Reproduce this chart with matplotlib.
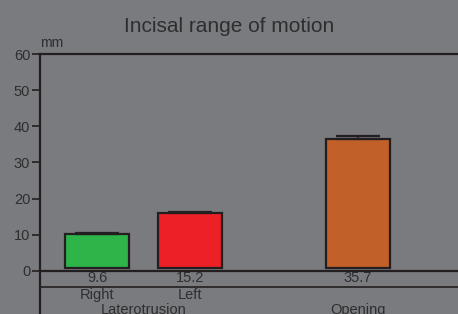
import matplotlib.pyplot as plt

plt.rcParams['font.family'] = ['Liberation Sans', 'DejaVu Sans']

# data
labels = ['Right', 'Left', 'Opening']
values = [9.6, 15.2, 35.7]
errors = [0.2, 0.3, 1.0]
colors = ['#2db54a', '#ee2027', '#c2602a']
yticks = [0, 10, 20, 30, 40, 50, 60]

bg = '#7a7b7f'
ink = '#231f20'
txt = '#2e2e30'

x_pos = [1, 2, 3.806]
base = 0.7

fig = plt.figure(figsize=(4.58, 3.14), dpi=100, facecolor=bg)
ax = fig.add_axes([40 / 458, 0, 1 - 40 / 458, 260 / 314])
ax.set_facecolor(bg)

ax.bar(x_pos, values, bottom=base, width=0.68, color=colors,
       edgecolor=ink, linewidth=1.6, zorder=3)
tops = [v + base for v in values]
ax.errorbar(x_pos, tops, yerr=[[0] * 3, errors], fmt='none', ecolor=ink,
            elinewidth=1.2, capsize=16, capthick=1.6, zorder=4)

ax.set_xlim(0.387, 4.88)
ax.set_ylim(-11.9, 60)
ax.set_yticks(yticks)
ax.set_xticks([])
ax.tick_params(axis='y', direction='out', length=6, width=1.2, color=ink,
               labelsize=10.5, labelcolor=txt, pad=1)

for s in ['right', 'bottom', 'top']:
    ax.spines[s].set_visible(False)
ax.spines['left'].set_color(ink)
ax.spines['left'].set_linewidth(1.6)
ax.axhline(60, color=ink, lw=1.6, zorder=5, clip_on=False)
ax.axhline(0, color=ink, lw=1.6, zorder=5)
ax.axhline(-4.42, color=ink, lw=1.2, zorder=5)

ax.text(0.387, 61.2, 'mm', fontsize=10, color=txt, ha='left', va='bottom')

for x, v in zip(x_pos, values):
    ax.text(x, -2.0, f'{v}', fontsize=10.5, color=txt, ha='center', va='center')
for x, lab in zip(x_pos[:2], labels[:2]):
    ax.text(x, -6.6, lab, fontsize=10.5, color=txt, ha='center', va='center')
ax.text(1.5, -10.8, 'Laterotrusion', fontsize=10.5, color=txt, ha='center', va='center')
ax.text(x_pos[2], -10.8, labels[2], fontsize=10.5, color=txt, ha='center', va='center')

fig.text(229 / 458, 1 - 26 / 314, 'Incisal range of motion', fontsize=15,
         color=txt, ha='center', va='center')

fig.savefig('out.png', dpi=100, facecolor=bg)
